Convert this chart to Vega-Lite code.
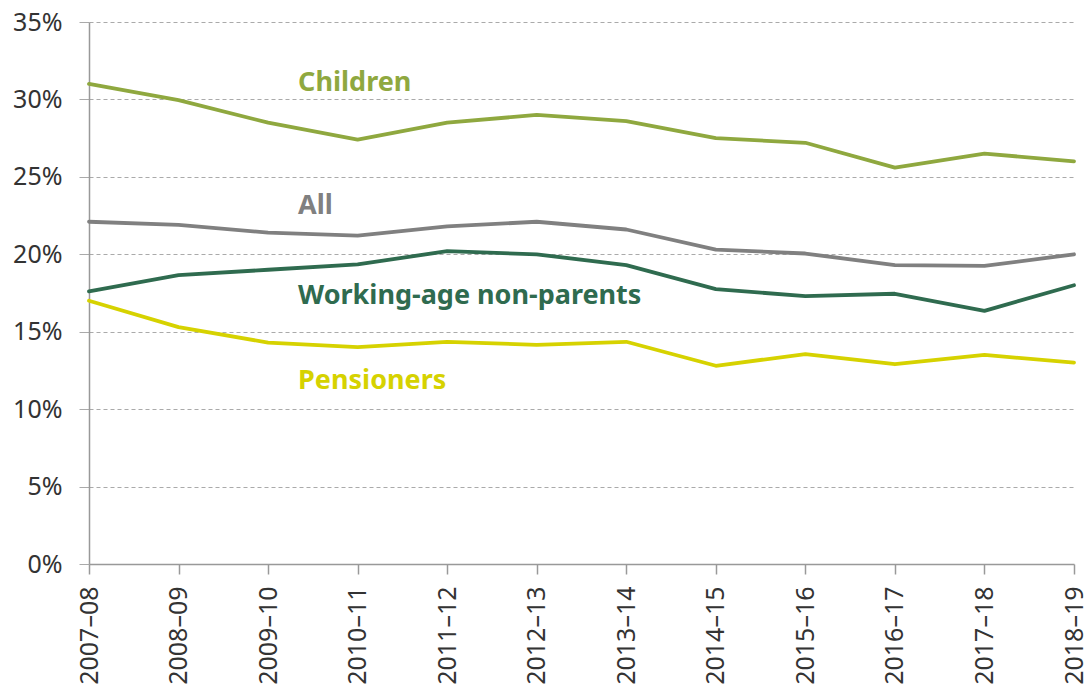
{
  "$schema": "https://vega.github.io/schema/vega-lite/v6.json",
  "width": 985,
  "height": 542,
  "autosize": {"type": "none"},
  "padding": {"left": 89, "top": 22, "right": 15, "bottom": 124},
  "background": "white",
  "config": {
    "view": {"stroke": null},
    "font": "Noto Sans"
  },
  "datasets": {
    "series": [
      {"year": "2007–08", "group": "Children", "rate": 31.0},
      {"year": "2008–09", "group": "Children", "rate": 29.95},
      {"year": "2009–10", "group": "Children", "rate": 28.5},
      {"year": "2010–11", "group": "Children", "rate": 27.4},
      {"year": "2011–12", "group": "Children", "rate": 28.5},
      {"year": "2012–13", "group": "Children", "rate": 29.0},
      {"year": "2013–14", "group": "Children", "rate": 28.6},
      {"year": "2014–15", "group": "Children", "rate": 27.5},
      {"year": "2015–16", "group": "Children", "rate": 27.2},
      {"year": "2016–17", "group": "Children", "rate": 25.6},
      {"year": "2017–18", "group": "Children", "rate": 26.5},
      {"year": "2018–19", "group": "Children", "rate": 26.0},
      {"year": "2007–08", "group": "All", "rate": 22.1},
      {"year": "2008–09", "group": "All", "rate": 21.9},
      {"year": "2009–10", "group": "All", "rate": 21.4},
      {"year": "2010–11", "group": "All", "rate": 21.2},
      {"year": "2011–12", "group": "All", "rate": 21.8},
      {"year": "2012–13", "group": "All", "rate": 22.1},
      {"year": "2013–14", "group": "All", "rate": 21.6},
      {"year": "2014–15", "group": "All", "rate": 20.3},
      {"year": "2015–16", "group": "All", "rate": 20.05},
      {"year": "2016–17", "group": "All", "rate": 19.3},
      {"year": "2017–18", "group": "All", "rate": 19.25},
      {"year": "2018–19", "group": "All", "rate": 20.0},
      {"year": "2007–08", "group": "Working-age non-parents", "rate": 17.6},
      {"year": "2008–09", "group": "Working-age non-parents", "rate": 18.65},
      {"year": "2009–10", "group": "Working-age non-parents", "rate": 19.0},
      {"year": "2010–11", "group": "Working-age non-parents", "rate": 19.35},
      {"year": "2011–12", "group": "Working-age non-parents", "rate": 20.2},
      {"year": "2012–13", "group": "Working-age non-parents", "rate": 20.0},
      {"year": "2013–14", "group": "Working-age non-parents", "rate": 19.3},
      {"year": "2014–15", "group": "Working-age non-parents", "rate": 17.75},
      {"year": "2015–16", "group": "Working-age non-parents", "rate": 17.3},
      {"year": "2016–17", "group": "Working-age non-parents", "rate": 17.45},
      {"year": "2017–18", "group": "Working-age non-parents", "rate": 16.35},
      {"year": "2018–19", "group": "Working-age non-parents", "rate": 18.0},
      {"year": "2007–08", "group": "Pensioners", "rate": 17.0},
      {"year": "2008–09", "group": "Pensioners", "rate": 15.3},
      {"year": "2009–10", "group": "Pensioners", "rate": 14.3},
      {"year": "2010–11", "group": "Pensioners", "rate": 14.0},
      {"year": "2011–12", "group": "Pensioners", "rate": 14.35},
      {"year": "2012–13", "group": "Pensioners", "rate": 14.15},
      {"year": "2013–14", "group": "Pensioners", "rate": 14.35},
      {"year": "2014–15", "group": "Pensioners", "rate": 12.8},
      {"year": "2015–16", "group": "Pensioners", "rate": 13.55},
      {"year": "2016–17", "group": "Pensioners", "rate": 12.9},
      {"year": "2017–18", "group": "Pensioners", "rate": 13.5},
      {"year": "2018–19", "group": "Pensioners", "rate": 13.0}
    ],
    "labels": [
      {"year": "2009–10", "group": "Children", "rate": 31.05},
      {"year": "2009–10", "group": "All", "rate": 23.1},
      {"year": "2009–10", "group": "Working-age non-parents", "rate": 17.3},
      {"year": "2009–10", "group": "Pensioners", "rate": 11.8}
    ]
  },
  "layer": [
    {
      "data": {"name": "series"},
      "mark": {"type": "line", "strokeWidth": 3.8, "strokeJoin": "round", "strokeCap": "round"},
      "encoding": {
        "x": {
          "field": "year", "type": "ordinal",
          "scale": {"type": "point", "padding": 0},
          "axis": {
            "title": null,
            "labelAngle": -90,
            "labelFontSize": 25,
            "labelColor": "#333333",
            "labelPadding": 12,
            "domainColor": "#999999",
            "domainWidth": 1.5,
            "tickColor": "#999999",
            "tickWidth": 1.5,
            "tickSize": 10,
            "grid": false
          }
        },
        "y": {
          "field": "rate", "type": "quantitative",
          "scale": {"domain": [0, 35], "nice": false},
          "axis": {
            "title": null,
            "values": [0, 5, 10, 15, 20, 25, 30, 35],
            "labelExpr": "datum.value + '%'",
            "labelFontSize": 25,
            "labelColor": "#333333",
            "labelPadding": 17,
            "domainColor": "#999999",
            "domainWidth": 1.5,
            "tickColor": "#aaaaaa",
            "tickSize": 10,
            "grid": true,
            "gridColor": "#aaaaaa",
            "gridDash": [4, 3],
            "gridWidth": 1.2
          }
        },
        "color": {
          "field": "group", "type": "nominal",
          "scale": {
            "domain": ["Children", "All", "Working-age non-parents", "Pensioners"],
            "range": ["#8FA83F", "#808080", "#2F6B4F", "#D6D200"]
          },
          "legend": null
        }
      }
    },
    {
      "data": {"name": "labels"},
      "mark": {"type": "text", "align": "left", "baseline": "middle", "dx": 30, "fontSize": 27, "fontWeight": "bold"},
      "encoding": {
        "x": {"field": "year", "type": "ordinal"},
        "y": {"field": "rate", "type": "quantitative"},
        "text": {"field": "group"},
        "color": {"field": "group", "type": "nominal", "legend": null}
      }
    }
  ]
}
